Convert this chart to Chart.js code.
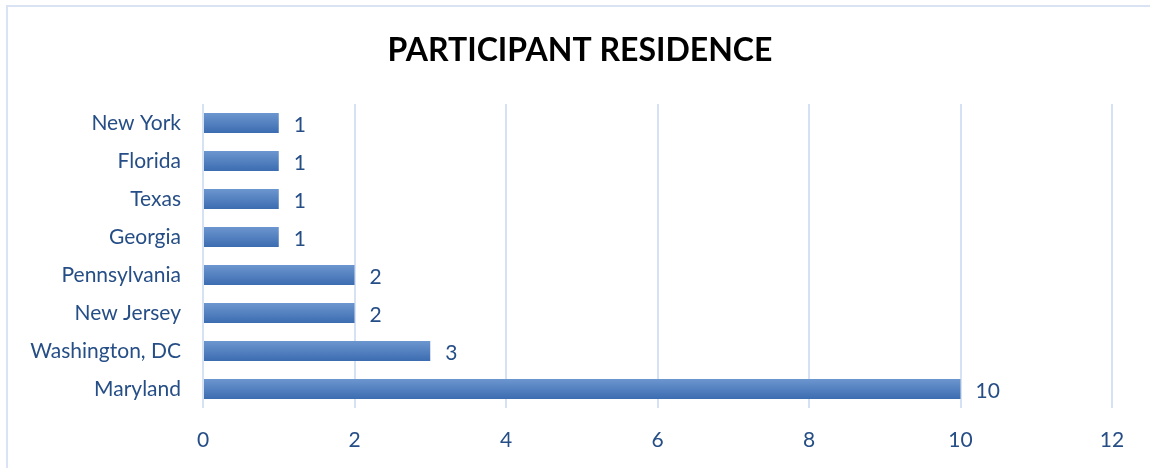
<!DOCTYPE html>
<html>
<head>
<meta charset="utf-8">
<script src="https://cdn.jsdelivr.net/npm/chart.js@4"></script>
<style>
	html, body { margin: 0; padding: 0; background: #fff; overflow: hidden; }
	#frame {
		position: absolute; left: 6px; top: 5px; width: 1200px; height: 500px;
		border-left: 2px solid #dae3f3; border-top: 2px solid #dae3f3;
	}
	#chart-box { position: absolute; left: 0; top: 0; width: 1150px; height: 468px; }
</style>
</head>
<body>
<div id="frame"></div>
<div id="chart-box"><canvas id="myChart"></canvas></div>
<script>
const states = ['New York', 'Florida', 'Texas', 'Georgia', 'Pennsylvania', 'New Jersey', 'Washington, DC', 'Maryland'];
const participants = [1, 1, 1, 1, 2, 2, 3, 10];
const xTicks = [0, 2, 4, 6, 8, 10, 12];
const chartTitle = 'PARTICIPANT RESIDENCE';

const textBlue = '#264e86';
const fontFamily = 'Lato, "Open Sans", sans-serif';

// vertical gradient for each bar, lighter on top
function barFill(context) {
	const chart = context.chart;
	const yScale = chart.scales.y;
	if (!yScale || context.dataIndex === undefined) return '#4f7fc0';
	const center = yScale.getPixelForValue(context.dataIndex);
	if (!Number.isFinite(center)) return '#4f7fc0';
	const half = 10;
	const grad = chart.ctx.createLinearGradient(0, center - half, 0, center + half);
	grad.addColorStop(0, '#6c96cf');
	grad.addColorStop(1, '#3c6cb1');
	return grad;
}

// title drawn by hand so it sits centred on the whole frame
const titleText = {
	id: 'titleText',
	afterDraw(chart) {
		const ctx = chart.ctx;
		ctx.save();
		ctx.fillStyle = '#000';
		ctx.font = 'bold 32px ' + fontFamily;
		ctx.textAlign = 'center';
		ctx.textBaseline = 'alphabetic';
		ctx.fillText(chartTitle, 580, 61);
		ctx.restore();
	}
};

// value text to the right of each bar
const valueLabels = {
	id: 'valueLabels',
	afterDatasetsDraw(chart) {
		const ctx = chart.ctx;
		const meta = chart.getDatasetMeta(0);
		ctx.save();
		ctx.fillStyle = textBlue;
		ctx.font = '21px ' + fontFamily;
		ctx.textAlign = 'left';
		ctx.textBaseline = 'middle';
		meta.data.forEach((bar, i) => {
			ctx.fillText(String(participants[i]), bar.x + 15, bar.y + 2);
		});
		ctx.restore();
	}
};

const config = {
	type: 'bar',
	data: {
		labels: states,
		datasets: [{
			data: participants,
			backgroundColor: barFill,
			borderWidth: 0,
			categoryPercentage: 1,
			barPercentage: 0.52
		}]
	},
	options: {
		indexAxis: 'y',
		responsive: true,
		maintainAspectRatio: false,
		animation: false,
		layout: { padding: { top: 104, left: 0, right: 38, bottom: 0 } },
		plugins: {
			legend: { display: false },
			tooltip: { enabled: false },
			title: { display: false }
		},
		scales: {
			x: {
				min: 0,
				max: 12,
				afterBuildTicks(scale) {
					scale.ticks = xTicks.map(v => ({ value: v }));
				},
				afterFit(scale) { scale.height = 60; },
				border: { display: false },
				grid: { color: '#d6e1f3', lineWidth: 2, drawTicks: false },
				ticks: { color: textBlue, padding: 20, font: { family: fontFamily, size: 21 } }
			},
			y: {
				afterFit(scale) { scale.width = 203; },
				border: { display: false },
				grid: { display: false, drawTicks: false },
				ticks: { color: textBlue, padding: 22, font: { family: fontFamily, size: 21 } }
			}
		}
	},
	plugins: [valueLabels, titleText]
};

var myChart = new Chart(document.getElementById('myChart'), config);
</script>
</body>
</html>
